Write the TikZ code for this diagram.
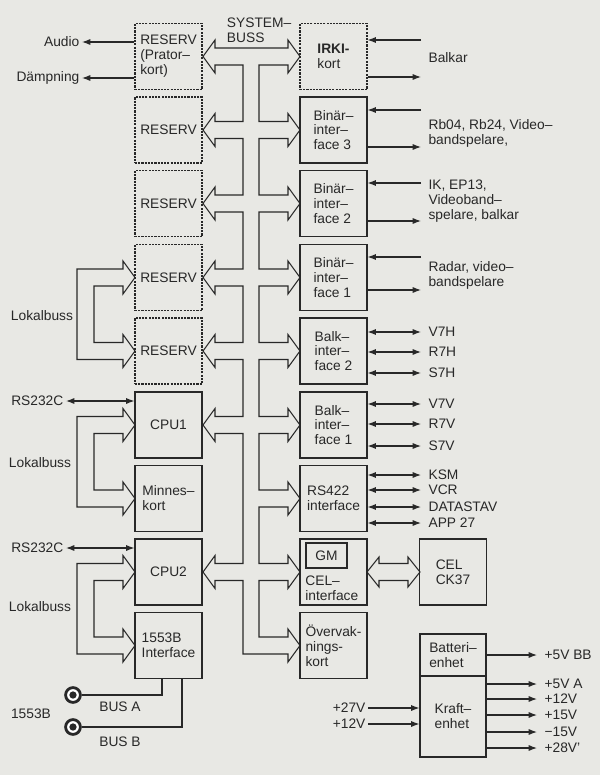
\documentclass[tikz,border=0pt]{standalone}
\usepackage{fontspec}
\setmainfont{Liberation Sans}
\usetikzlibrary{arrows.meta,calc}
\definecolor{paper}{RGB}{232,232,228}
\definecolor{ink}{RGB}{40,40,40}

\begin{document}
\begin{tikzpicture}[x=0.025cm, y=-0.025cm, line width=0.75pt, color=ink,
    font=\fontsize{9.8}{10.6}\selectfont,
    card/.style={draw, minimum width=1.675cm, minimum height=1.65cm, inner sep=1pt, align=left},
    spare/.style={card, dash pattern=on 1.5pt off 0.8pt},
    rlbl/.style={anchor=west, inner xsep=5pt, inner ysep=1pt, align=left},
    llbl/.style={anchor=east, inner xsep=1.5pt, inner ysep=1pt},
    sig/.style={-{Latex[length=6pt,width=4.4pt]}},
    bisig/.style={{Latex[length=6pt,width=4.4pt]}-{Latex[length=6pt,width=4.4pt]}},
    jack/.style={circle, draw, line width=2pt, fill=white, minimum size=0.37cm, inner sep=0pt,
        path picture={\fill[ink] (path picture bounding box.center) circle (2.6pt);}}]
    \fill[paper] (0,0) rectangle (600,775);

    % Left column of cards
    \node[spare] (prator) at (168.5,56.5) {RESERV\\(Prator–\\kort)};
    \node[spare] (res2) at (168.5,130) {RESERV};
    \node[spare] (res3) at (168.5,203.5) {RESERV};
    \node[spare] (res4) at (168.5,277.5) {RESERV};
    \node[spare] (res5) at (168.5,351) {RESERV};
    \node[card] (cpu1) at (168.5,425) {CPU1};
    \node[card] (minne) at (168.5,498.5) {Minnes–\\kort};
    \node[card] (cpu2) at (168.5,572) {CPU2};
    \node[card] (m1553) at (168.5,645.5) {1553B\\Interface};

    % Right column of cards
    \node[spare] (irki) at (333.5,56.5) {\bfseries IRKI-\\kort};
    \node[card] (bin3) at (333.5,130) {Binär–\\inter–\\face 3};
    \node[card] (bin2) at (333.5,203.5) {Binär–\\inter–\\face 2};
    \node[card] (bin1) at (333.5,277.5) {Binär–\\inter–\\face 1};
    \node[card] (balk2) at (333.5,351) {Balk–\\inter–\\face 2};
    \node[card] (balk1) at (333.5,425) {Balk–\\inter–\\face 1};
    \node[card] (rs422) at (333.5,498.5) {RS422\\interface};
    \node[card] (celif) at (333.5,572) {};
    \node[draw, minimum width=1.025cm, minimum height=0.625cm, anchor=north west] (gm)
        at ($(celif.north west)+(6,4)$) {GM};
    \node[anchor=south west, align=left, inner sep=1pt] (celtxt)
        at ($(celif.south west)+(4,-3)$) {CEL–\\interface};
    \node[card] (overv) at (333.5,645.5) {Övervak-\\nings-\\kort};
    \node[card] (ck37) at (453,572) {CEL\\CK37};

    % Power
    \node[draw, minimum width=1.65cm, minimum height=1.05cm, align=left] (batt) at (453,655) {Batteri–\\enhet};
    \node[draw, minimum width=1.65cm, minimum height=2.025cm, align=left] (kraft) at (453,716.5) {Kraft–\\enhet};

    % System bus
    \node[anchor=west, align=left, inner sep=1pt] (sysbus) at (225,30) {SYSTEM–\\BUSS};
    \draw (288,48) -- (215,48) -- (215,40) -- (203,56.5) -- (215,73) -- (215,65) -- (243,65)
        \foreach \c in {130,203.5,277.5,351,425,572} {
            -- (243,\c-8.5) -- (215,\c-8.5) -- (215,\c-16.5) -- (203,\c)
            -- (215,\c+16.5) -- (215,\c+8.5) -- (243,\c+8.5) }
        -- (243,654) -- (288,654) -- (288,662) -- (300,645.5) -- (288,629) -- (288,637) -- (259,637)
        \foreach \c in {572,498.5,425,351,277.5,203.5,130} {
            -- (259,\c+8.5) -- (288,\c+8.5) -- (288,\c+16.5) -- (300,\c)
            -- (288,\c-16.5) -- (288,\c-8.5) -- (259,\c-8.5) }
        -- (259,65) -- (288,65) -- (288,73) -- (300,56.5) -- (288,40) -- cycle;

    % Local buses
    \foreach \a/\b in {277.5/351, 425/498.5, 572/645.5} {
        \draw (123,\a-8.5) -- (77,\a-8.5) -- (77,\b+8.5) -- (123,\b+8.5) -- (123,\b+16.5)
            -- (135,\b) -- (123,\b-16.5) -- (123,\b-8.5) -- (94,\b-8.5) -- (94,\a+8.5)
            -- (123,\a+8.5) -- (123,\a+16.5) -- (135,\a) -- (123,\a-16.5) -- cycle;
    }
    \node (lb1) at (42,316) {Lokalbuss};
    \node (lb2) at (40,463) {Lokalbuss};
    \node (lb3) at (40,607) {Lokalbuss};

    % CEL link
    \draw (379,563.5) -- (408,563.5) -- (408,557) -- (420,572) -- (408,587) -- (408,580.5)
        -- (379,580.5) -- (379,587) -- (367,572) -- (379,557) -- cycle;

    % Left signals
    \node[llbl] (audio) at (82,42) {Audio};
    \node[llbl] (damp) at (82,78) {Dämpning};
    \draw[sig] (prator.west |- audio) -- (audio.east);
    \draw[sig] (prator.west |- damp) -- (damp.east);
    \node[llbl] (rsa) at (66,401) {RS232C};
    \node[llbl] (rsb) at (66,548) {RS232C};
    \draw[bisig] (rsa.east) -- (cpu1.west |- rsa);
    \draw[bisig] (rsb.east) -- (cpu2.west |- rsb);

    % 1553B
    \node[jack] (busa) at (73,695) {};
    \node[jack] (busb) at (73,727) {};
    \draw (m1553.south -| 162,0) |- (busa);
    \draw (m1553.south -| 182,0) |- (busb);
    \node (lbusa) at (120,707) {BUS A};
    \node (lbusb) at (120,742) {BUS B};
    \node (l1553) at (31,714) {1553B};

    % Right signals
    \node[rlbl] (balkar) at (421,58) {Balkar};
    \draw[sig] (balkar.west |- 0,40) -- (irki.east |- 0,40);
    \draw[sig] (irki.east |- 0,77) -- (balkar.west |- 0,77);
    \node[rlbl] (rb) at (421,133.5) {Rb04, Rb24, Video–\\bandspelare,};
    \draw[sig] (rb.west |- 0,110) -- (bin3.east |- 0,110);
    \draw[sig] (bin3.east |- 0,147) -- (rb.west |- 0,147);
    \node[rlbl] (ik) at (421,201.5) {IK, EP13,\\Videoband–\\spelare, balkar};
    \draw[sig] (ik.west |- 0,183) -- (bin2.east |- 0,183);
    \draw[sig] (bin2.east |- 0,221) -- (ik.west |- 0,221);
    \node[rlbl] (radar) at (421,275.5) {Radar, video–\\bandspelare};
    \draw[sig] (radar.west |- 0,257) -- (bin1.east |- 0,257);
    \draw[sig] (bin1.east |- 0,290) -- (radar.west |- 0,290);
    \foreach \y/\n/\t/\b in {332/vh/V7H/balk2, 352/rh/R7H/balk2, 373/sh/S7H/balk2,
            404/vv/V7V/balk1, 424/rv/R7V/balk1, 446/sv/S7V/balk1,
            475/ksm/KSM/rs422, 490/vcr/VCR/rs422, 507/dst/DATASTAV/rs422, 523/app/APP 27/rs422} {
        \node[rlbl] (\n) at (421,\y) {\t};
        \draw[bisig] (\b.east |- \n) -- (\n.west);
    }

    % Power lines
    \node[rlbl] (bb) at (537,655) {+5V BB};
    \draw[sig] (batt.east |- bb) -- (bb.west);
    \foreach \y/\n/\t in {684/pa/+5V A, 699/pb/+12V, 715/pc/+15V, 732/pd/−15V, 748/pe/+28V'} {
        \node[rlbl] (\n) at (537,\y) {\t};
        \draw[sig] (kraft.east |- \n) -- (\n.west);
    }
    \node[llbl] (in27) at (368,708) {+27V};
    \node[llbl] (in12) at (368,724) {+12V};
    \draw[sig] (in27.east) -- (kraft.west |- in27);
    \draw[sig] (in12.east) -- (kraft.west |- in12);
\end{tikzpicture}
\end{document}
